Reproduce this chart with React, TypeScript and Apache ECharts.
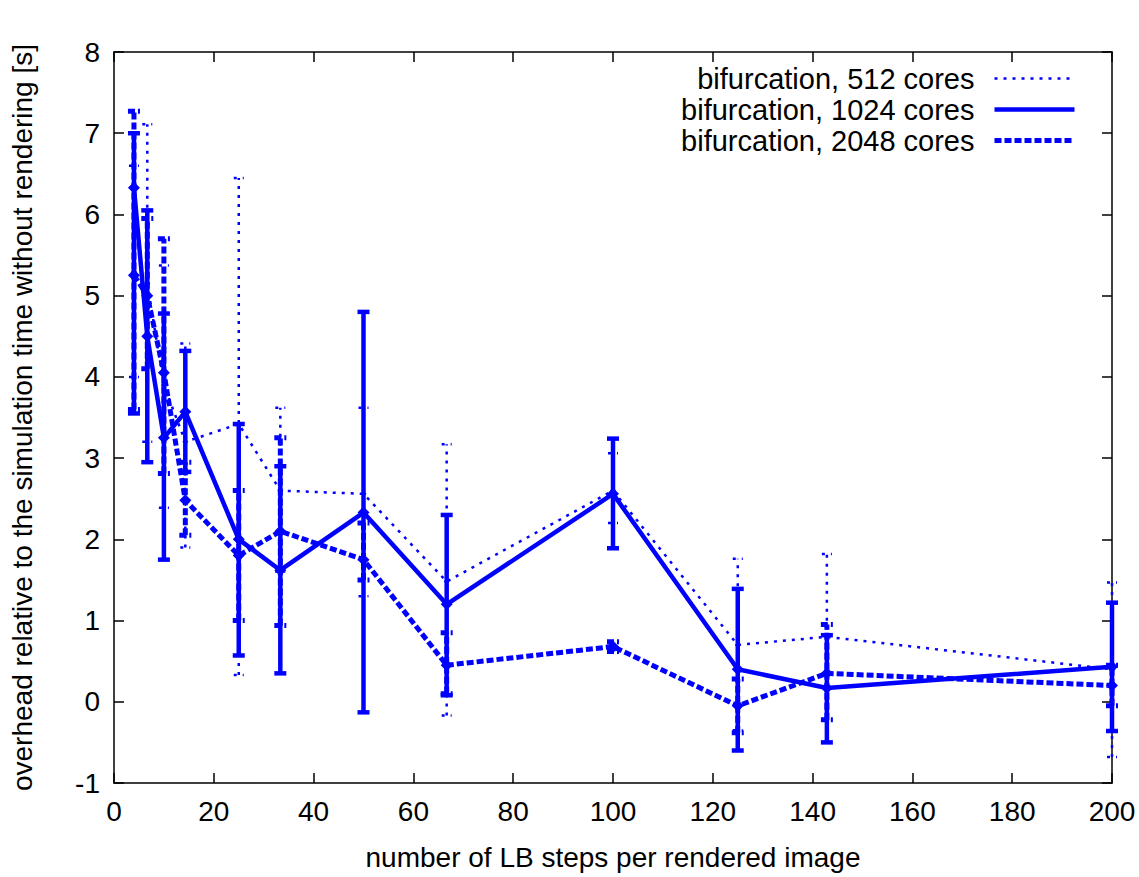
import React, { useEffect, useRef } from "react";
import * as echarts from "echarts";

// ---- data ----
const xSteps = [4, 6.67, 10, 14.29, 25, 33.33, 50, 66.67, 100, 125, 142.86, 200];

const seriesNames = ["bifurcation, 512 cores", "bifurcation, 1024 cores", "bifurcation, 2048 cores"];

const mean512 = [5.3, 5.15, 3.9, 3.2, 3.42, 2.6, 2.56, 1.48, 2.6, 0.7, 0.8, 0.4];
const low512 = [4.0, 3.2, 2.39, 1.9, 0.33, 1.6, 1.3, -0.17, 2.2, -0.35, -0.22, -0.68];
const high512 = [6.6, 7.11, 5.37, 4.41, 6.45, 3.62, 3.62, 3.17, 3.06, 1.76, 1.82, 1.47];

const mean1024 = [6.33, 4.5, 3.25, 3.57, 2.0, 1.62, 2.33, 1.2, 2.56, 0.4, 0.17, 0.43];
const low1024 = [3.55, 2.95, 1.75, 2.83, 0.57, 0.35, -0.13, 0.08, 1.89, -0.6, -0.5, -0.36];
const high1024 = [7.0, 6.05, 4.78, 4.32, 3.42, 2.9, 4.8, 2.3, 3.24, 1.39, 0.82, 1.22];

const mean2048 = [5.25, 5.0, 4.05, 2.48, 1.8, 2.1, 1.75, 0.45, 0.68, -0.05, 0.35, 0.2];
const low2048 = [3.6, 4.1, 2.81, 2.05, 1.0, 0.94, 1.5, 0.1, 0.62, -0.38, -0.22, -0.05];
const high2048 = [7.27, 5.95, 5.7, 2.95, 2.6, 3.25, 2.2, 0.85, 0.74, 0.28, 0.95, 0.45];

const xTickInterval = 20;
const yTickInterval = 1;

// ---- styles ----
const BLUE = "#0000ff";
const FONT = "Liberation Sans";

type Sty = { width: number; dash: number[] | null; cap: number; mark: number };
const styles: Sty[] = [
  { width: 2.5, dash: [3, 6], cap: 5, mark: 3 },
  { width: 4.5, dash: null, cap: 6, mark: 6 },
  { width: 5, dash: [7, 3], cap: 6, mark: 6 },
];

function errorSeries(name: string, means: number[], lows: number[], highs: number[], s: Sty) {
  return {
    type: "custom",
    name: name + " err",
    data: xSteps.map((x, i) => [x, lows[i], highs[i], means[i]]),
    renderItem: (_params: any, api: any) => {
      const x = api.value(0);
      const pLo = api.coord([x, api.value(1)]);
      const pHi = api.coord([x, api.value(2)]);
      const pM = api.coord([x, api.value(3)]);
      const st: any = { stroke: BLUE, lineWidth: s.width };
      if (s.dash) st.lineDash = s.dash;
      const r = s.mark;
      return {
        type: "group",
        children: [
          { type: "line", shape: { x1: pLo[0], y1: pLo[1], x2: pHi[0], y2: pHi[1] }, style: st },
          { type: "line", shape: { x1: pHi[0] - s.cap, y1: pHi[1], x2: pHi[0] + s.cap, y2: pHi[1] }, style: st },
          { type: "line", shape: { x1: pLo[0] - s.cap, y1: pLo[1], x2: pLo[0] + s.cap, y2: pLo[1] }, style: st },
          {
            type: "polygon",
            shape: { points: [[pM[0], pM[1] - r], [pM[0] + r, pM[1]], [pM[0], pM[1] + r], [pM[0] - r, pM[1]]] },
            style: { fill: BLUE },
          },
        ],
      };
    },
    z: 3,
  };
}

function lineSeries(name: string, means: number[], s: Sty) {
  return {
    type: "line",
    name,
    data: xSteps.map((x, i) => [x, means[i]]),
    symbol: "none",
    lineStyle: { color: BLUE, width: s.width, type: s.dash ? s.dash : "solid" },
    itemStyle: { color: BLUE },
    z: 2,
  };
}

export default function App() {
  const ref = useRef<HTMLDivElement>(null);
  useEffect(() => {
    if (!ref.current) return;
    const chart = echarts.init(ref.current, undefined, { renderer: "svg" });
    const axisLine = { show: true, onZero: false, lineStyle: { color: "#000", width: 1.5 } };
    const axisTick = { show: true, inside: true, length: 10, lineStyle: { color: "#000", width: 1.5 } };
    const label = { fontSize: 28, color: "#000", fontFamily: FONT };
    chart.setOption({
      animation: false,
      backgroundColor: "#fff",
      grid: { left: 114, right: 27, top: 52, bottom: 94, show: false },
      legend: {
        data: seriesNames.map((n, i) => ({
          name: n,
          lineStyle: { width: styles[i].width, type: styles[i].dash ? styles[i].dash : "solid", color: BLUE },
        })),
        orient: "vertical",
        right: 57,
        top: 59,
        align: "right",
        itemWidth: 80,
        itemHeight: 14,
        itemGap: 2,
        selectedMode: false,
        itemStyle: { opacity: 0 },
        textStyle: { fontSize: 29, color: "#000", fontFamily: FONT, padding: [0, 15, 0, 0] },
      },
      xAxis: [
        {
          type: "value",
          min: 0,
          max: 200,
          interval: xTickInterval,
          position: "bottom",
          axisLine,
          axisTick,
          axisLabel: { ...label, margin: 14 },
          splitLine: { show: false },
          name: "number of LB steps per rendered image",
          nameLocation: "middle",
          nameGap: 60,
          nameTextStyle: { ...label },
        },
        {
          type: "value",
          min: 0,
          max: 200,
          interval: xTickInterval,
          position: "top",
          axisLine,
          axisTick,
          axisLabel: { show: false },
          splitLine: { show: false },
        },
      ],
      yAxis: [
        {
          type: "value",
          min: -1,
          max: 8,
          interval: yTickInterval,
          position: "left",
          axisLine,
          axisTick,
          axisLabel: { ...label, margin: 14 },
          splitLine: { show: false },
          name: "overhead relative to the simulation time without rendering [s]",
          nameLocation: "middle",
          nameGap: 78,
          nameTextStyle: { ...label },
        },
        {
          type: "value",
          min: -1,
          max: 8,
          interval: yTickInterval,
          position: "right",
          axisLine,
          axisTick,
          axisLabel: { show: false },
          splitLine: { show: false },
        },
      ],
      series: [
        lineSeries(seriesNames[0], mean512, styles[0]),
        lineSeries(seriesNames[1], mean1024, styles[1]),
        lineSeries(seriesNames[2], mean2048, styles[2]),
        errorSeries(seriesNames[0], mean512, low512, high512, styles[0]),
        errorSeries(seriesNames[1], mean1024, low1024, high1024, styles[1]),
        errorSeries(seriesNames[2], mean2048, low2048, high2048, styles[2]),
      ],
    });
    return () => chart.dispose();
  }, []);
  return (
    <div
      ref={ref}
      style={{ position: "absolute", left: 0, top: 0, width: 1139, height: 877 }}
    />
  );
}
